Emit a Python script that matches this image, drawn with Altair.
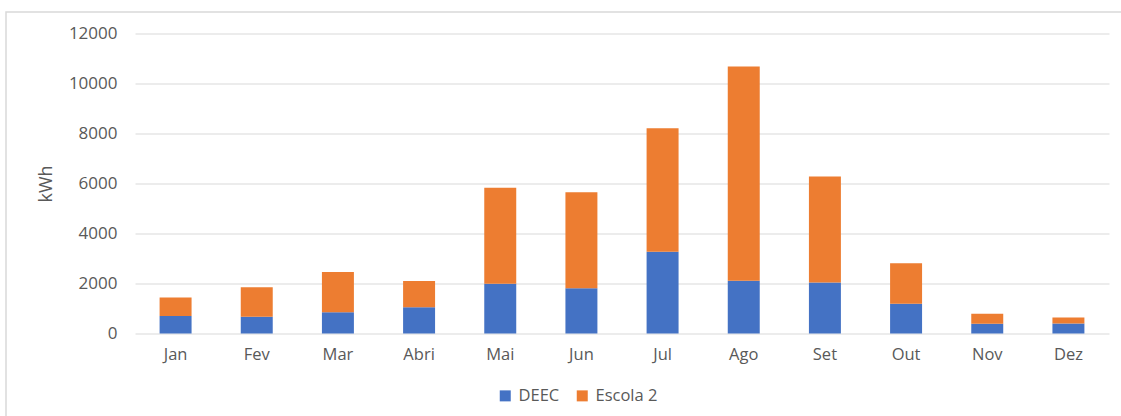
import altair as alt
import pandas as pd

# Monthly energy (kWh) for the two sites
months = ["Jan", "Fev", "Mar", "Abri", "Mai", "Jun", "Jul", "Ago", "Set", "Out", "Nov", "Dez"]
deec = [700, 670, 850, 1050, 1990, 1810, 3270, 2110, 2040, 1190, 390, 400]
escola2 = [740, 1180, 1610, 1050, 3840, 3840, 4940, 8570, 4240, 1620, 400, 240]
series = ["DEEC", "Escola 2"]
colors = ["#4472C4", "#ED7D31"]

rows = []
for i, m in enumerate(months):
    rows.append({"Mes": m, "Serie": series[0], "kWh": deec[i], "ordem": 0})
    rows.append({"Mes": m, "Serie": series[1], "kWh": escola2[i], "ordem": 1})
df = pd.DataFrame(rows)

FONT = "Open Sans"
TXT = "#595959"
GRID = "#D9D9D9"

PAD_L, PAD_T = 135, 33.5
W, H = 974, 300

bars = alt.Chart(df).mark_bar().encode(
    x=alt.X(
        "Mes:N",
        sort=months,
        title=None,
        scale=alt.Scale(paddingInner=0.606, paddingOuter=0.303),
        axis=alt.Axis(
            labelAngle=0, ticks=False, domain=False, labelPadding=13,
            labelFont=FONT, labelFontSize=16.5, labelColor=TXT,
        ),
    ),
    y=alt.Y(
        "kWh:Q",
        stack="zero",
        title="kWh",
        scale=alt.Scale(domain=[0, 12000], nice=False),
        axis=alt.Axis(
            values=[0, 2000, 4000, 6000, 8000, 10000, 12000],
            format="d", ticks=False, domain=False, labelPadding=18,
            labelFont=FONT, labelFontSize=17, labelColor=TXT,
            gridColor=GRID, gridWidth=1.2,
            titleFont=FONT, titleFontSize=18, titleFontWeight="normal",
            titleColor=TXT, titlePadding=13,
        ),
    ),
    color=alt.Color(
        "Serie:N",
        scale=alt.Scale(domain=series, range=colors),
        legend=alt.Legend(
            title=None, orient="none", direction="horizontal",
            legendX=362, legendY=354,
            symbolType="square", symbolSize=121, symbolStrokeWidth=0,
            labelFont=FONT, labelFontSize=16.5, labelColor=TXT,
            labelOffset=5, columnPadding=14,
        ),
    ),
    order=alt.Order("ordem:Q", sort="ascending"),
)

# Light frame around the whole chart
frame = alt.Chart(alt.Data(values=[{"f": 1}])).mark_rect(
    fill=None, stroke=GRID, strokeWidth=1.5
).encode(
    x=alt.value(6 - PAD_L),
    x2=alt.value(1121 - PAD_L + 5),
    y=alt.value(12 - PAD_T),
    y2=alt.value(416 - PAD_T + 5),
)

chart = alt.layer(frame, bars).properties(
    width=W,
    height=H,
    background="white",
    autosize=alt.AutoSizeParams(type="none"),
    padding={"left": PAD_L, "top": PAD_T, "right": 1121 - PAD_L - W, "bottom": 416 - PAD_T - H},
).configure_view(strokeWidth=0, stroke="transparent")

chart.save("out.html", embed_options={"renderer": "svg", "actions": False})
